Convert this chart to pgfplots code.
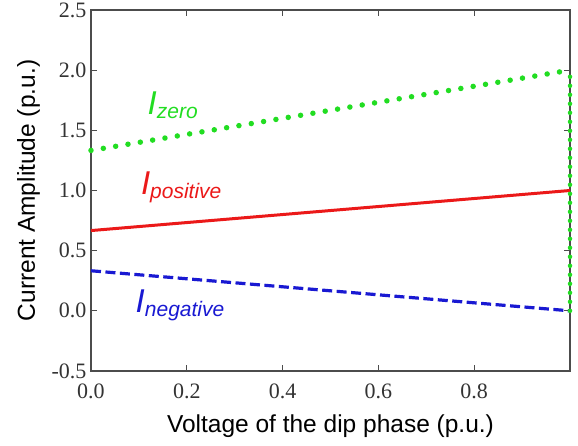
\documentclass[border=0pt]{standalone}
\usepackage{pgfplots}
\pgfplotsset{compat=1.18}
\usepackage{fontspec}
\setmainfont{Liberation Serif}
\setsansfont{Liberation Sans}
\definecolor{gz}{RGB}{34,221,34}
\definecolor{rp}{RGB}{235,25,25}
\definecolor{bn}{RGB}{25,25,210}
\newcommand{\lab}[1]{\fontsize{33bp}{35bp}\selectfont I\raisebox{-3.5bp}{\fontsize{21bp}{22bp}\selectfont #1}}
\begin{document}
\begin{tikzpicture}
\begin{axis}[
  scale only axis,
  width=479bp, height=361bp,
  xmin=0, xmax=1, ymin=-0.5, ymax=2.5,
  xtick={0,0.2,0.4,0.6,0.8},
  ytick={-0.5,0,0.5,1,1.5,2,2.5},
  tick align=inside,
  major tick length=6bp,
  axis line style={line width=1.2pt, black!70},
  tick style={black!70, line width=0.9pt},
  xticklabel style={font=\fontsize{22bp}{23bp}\selectfont, text=black!80, yshift=-9bp},
  yticklabel style={font=\fontsize{22bp}{23bp}\selectfont, text=black!80, xshift=-1bp},
  x tick label style={/pgf/number format/.cd, fixed, fixed zerofill, precision=1},
  y tick label style={/pgf/number format/.cd, fixed, fixed zerofill, precision=1},
  /pgf/number format/assume math mode=true,
  xlabel={Voltage of the dip phase (p.u.)},
  ylabel={Current Amplitude (p.u.)},
  xlabel style={font=\sffamily\fontsize{24.5bp}{26bp}\selectfont, at={(axis description cs:0.5,-0.121)}, anchor=north, inner sep=0pt},
  ylabel style={font=\sffamily\fontsize{24.5bp}{26bp}\selectfont, at={(axis description cs:-0.106,0.5)}, anchor=south, inner sep=0pt},
  clip=false,
]
\addplot[gz, line width=5.5bp, line cap=round, dash pattern=on 0pt off 12.5bp] coordinates {(0,1.333) (1,2.0)};
\addplot[rp, line width=3bp] coordinates {(0,0.667) (1,1.0)};
\addplot[bn, line width=3.2bp, dash pattern=on 10bp off 4.5bp] coordinates {(0,0.333) (1,0.0)};
\addplot[gz, line width=4.5bp, line cap=round, dash pattern=on 0pt off 9bp] coordinates {(1,0) (1,2.0)};
\node[anchor=base west, text=gz, font=\sffamily\itshape, inner sep=0pt] at (axis cs:0.118,1.628) {\lab{zero}};
\node[anchor=base west, text=rp, font=\sffamily\itshape, inner sep=0pt] at (axis cs:0.104,0.963) {\lab{positive}};
\node[anchor=base west, text=bn, font=\sffamily\itshape, inner sep=0pt] at (axis cs:0.093,-0.015) {\lab{negative}};
\end{axis}
\pgfresetboundingbox
\path ([shift={(-91bp,-75bp)}]current axis.south west) rectangle ([shift={(8bp,10bp)}]current axis.north east);
\end{tikzpicture}
\end{document}
